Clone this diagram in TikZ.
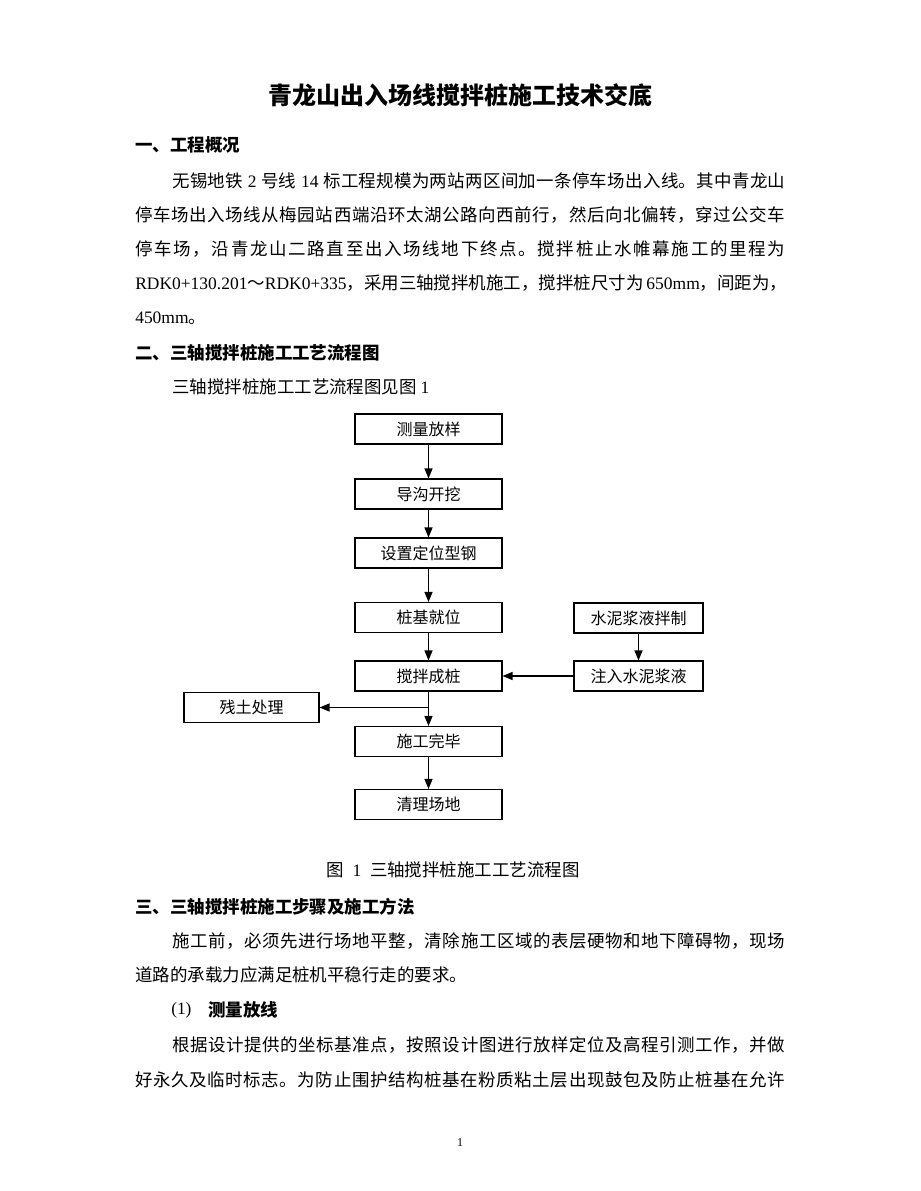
\documentclass[tikz,border=0pt]{standalone}
\usepackage{fontspec}
\setmainfont{Noto Sans CJK SC}
\newfontfamily\lat{Liberation Serif}
\usetikzlibrary{arrows.meta}
\newdimen\px \px=0.75pt
\def\spreadstop{\spreadstop}
\def\spreadstopx{\spreadstop}
\def\spreadloop#1{\def\spreadtmp{#1}\ifx\spreadtmp\spreadstopx\else{#1}\hfil\expandafter\spreadloop\fi}
\newcommand\jl[2]{\hbox to #1{\spreadloop#2\spreadstop\unskip}}
\tikzset{
  body/.style={anchor=west,inner sep=0pt,font=\fontsize{13.1pt}{16pt}\selectfont},
  head/.style={anchor=west,inner sep=0pt,font=\fontsize{13.1pt}{16pt}\selectfont\bfseries},
  flowbox/.style={draw,line width=0.8pt,minimum width=#1\px,minimum height=30\px,inner sep=0pt,font=\fontsize{12pt}{14pt}\selectfont},
  arr/.style={-{Triangle[length=7.5pt,width=6pt]},line width=0.9pt},
}
\begin{document}
\begin{tikzpicture}[x=0.75pt,y=-0.75pt]
\fill[white] (0,0) rectangle (920,1191);
\useasboundingbox (0,0) rectangle (920,1191);
% title
\node[inner sep=0pt,font=\fontsize{18pt}{20pt}\selectfont\bfseries] (title) at (460,95) {青龙山出入场线搅拌桩施工技术交底};
% section 1
\node[head] (h1) at (135,145) {一、工程概况};
\node[body] (p1a) at (172,181) {\jl{613\px}{无锡地铁{\lat\ 2\ }号线{\lat\ 14\ }标工程规模为两站两区间加一条停车场出入线。其中青龙山}};
\node[body] (p1b) at (135,215) {\jl{650\px}{停车场出入场线从梅园站西端沿环太湖公路向西前行，然后向北偏转，穿过公交车}};
\node[body] (p1c) at (135,249) {\jl{650\px}{停车场，沿青龙山二路直至出入场线地下终点。搅拌桩止水帷幕施工的里程为}};
\node[body] (p1d) at (135,283) {\jl{650\px}{{\lat RDK0+130.201}～{\lat RDK0+335}，采用三轴搅拌机施工，搅拌桩尺寸为{\lat\ 650mm}，间距为，}};
\node[body] (p1e) at (135,318) {{\lat 450mm}。};
% section 2
\node[head] (h2) at (135,353) {二、三轴搅拌桩施工工艺流程图};
\node[body] (p2) at (172,387) {三轴搅拌桩施工工艺流程图见图 {\lat 1}};
% flowchart
\node[flowbox=147] (b1) at (428.5,429) {测量放样};
\node[flowbox=147] (b2) at (428.5,494) {导沟开挖};
\node[flowbox=147] (b3) at (428.5,553) {设置定位型钢};
\node[flowbox=147] (b4) at (428.5,617.5) {桩基就位};
\node[flowbox=147] (b5) at (428.5,676) {搅拌成桩};
\node[flowbox=147] (b6) at (428.5,741.5) {施工完毕};
\node[flowbox=147] (b7) at (428.5,804.5) {清理场地};
\node[flowbox=129] (r1) at (638.5,618) {水泥浆液拌制};
\node[flowbox=129] (r2) at (638.5,676) {注入水泥浆液};
\node[flowbox=135] (l1) at (251.5,707.5) {残土处理};
\draw[arr] (b1) -- (b2);
\draw[arr] (b2) -- (b3);
\draw[arr] (b3) -- (b4);
\draw[arr] (b4) -- (b5);
\draw[arr] (b5) -- (b6);
\draw[arr] (b6) -- (b7);
\draw[arr] (r1) -- (r2);
\draw[arr] (r2) -- (b5);
\coordinate (j) at (b5.south |- l1.east);
\draw[arr] (j) -- (l1.east);
% caption
\node[inner sep=0pt,font=\fontsize{13.1pt}{16pt}\selectfont] (cap) at (453,870) {图\hspace{0.5em}{\lat 1}\hspace{0.5em}三轴搅拌桩施工工艺流程图};
% section 3
\node[head] (h3) at (135,907) {三、三轴搅拌桩施工步骤及施工方法};
\node[body] (p3a) at (172,941) {\jl{613\px}{施工前，必须先进行场地平整，清除施工区域的表层硬物和地下障碍物，现场}};
\node[body] (p3b) at (135,975) {道路的承载力应满足桩机平稳行走的要求。};
\node[body,font=\fontsize{13pt}{15pt}\lat] (n1) at (171,1010) {(1)};
\node[head] (h4) at (208,1010) {测量放线};
\node[body] (p4a) at (172,1045) {\jl{613\px}{根据设计提供的坐标基准点，按照设计图进行放样定位及高程引测工作，并做}};
\node[body] (p4b) at (135,1080) {\jl{650\px}{好永久及临时标志。为防止围护结构桩基在粉质粘土层出现鼓包及防止桩基在允许}};
% page number
\node[inner sep=0pt,font=\fontsize{9pt}{10pt}\lat] (pg) at (460,1143) {1};
\end{tikzpicture}
\end{document}
